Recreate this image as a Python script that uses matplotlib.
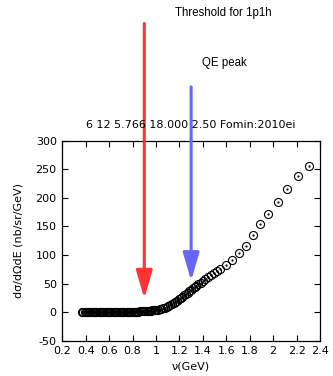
import matplotlib
matplotlib.use('Agg')
import matplotlib.pyplot as plt

plt.rcParams['axes.unicode_minus'] = False

# energy transfer nu (GeV) and cross section (nb/sr/GeV)
nu = [0.37, 0.38, 0.39, 0.40, 0.41, 0.42, 0.43, 0.44, 0.45, 0.46,
      0.47, 0.48, 0.49, 0.50, 0.51, 0.52, 0.53, 0.54, 0.55, 0.56,
      0.57, 0.58, 0.59, 0.60, 0.61, 0.62, 0.63, 0.64, 0.65, 0.66,
      0.67, 0.68, 0.69, 0.70, 0.71, 0.72, 0.73, 0.74, 0.75, 0.76,
      0.77, 0.78, 0.79, 0.80, 0.81, 0.82, 0.83, 0.84, 0.85, 0.86,
      0.87, 0.88, 0.89, 0.90, 0.91, 0.92, 0.93, 0.94, 0.95, 0.96,
      0.97, 0.98, 0.99, 1.00, 1.015, 1.03, 1.045, 1.06, 1.075, 1.09,
      1.105, 1.12, 1.135, 1.15, 1.165, 1.18, 1.195, 1.21, 1.225, 1.24,
      1.255, 1.27, 1.285, 1.30, 1.315, 1.33, 1.345, 1.36, 1.38, 1.40,
      1.42, 1.445, 1.47, 1.495, 1.52, 1.547, 1.60, 1.649, 1.706, 1.766,
      1.826, 1.89, 1.96, 2.04, 2.12, 2.21, 2.31]
xsec = [0.0, 0.0, 0.0, 0.0, 0.0, 0.0, 0.0, 0.0, 0.0, 0.0,
        0.0, 0.0, 0.0, 0.0, 0.0, 0.0, 0.0, 0.0, 0.0, 0.1,
        0.1, 0.1, 0.1, 0.1, 0.1, 0.1, 0.1, 0.2, 0.2, 0.2,
        0.2, 0.2, 0.2, 0.3, 0.3, 0.3, 0.3, 0.3, 0.3, 0.4,
        0.4, 0.5, 0.5, 0.6, 0.6, 0.7, 0.8, 0.9, 1.0, 1.1,
        1.2, 1.3, 1.5, 1.6, 1.7, 1.9, 2.0, 2.2, 2.4, 2.6,
        2.9, 3.1, 3.3, 3.5, 4.2, 5.0, 5.8, 6.8, 8.0, 9.2,
        10.6, 12.2, 14.0, 16.0, 18.0, 20.2, 22.3, 24.6, 27.0, 29.4,
        31.8, 34.2, 36.6, 39.0, 41.4, 43.8, 46.2, 48.4, 51.5, 55.0,
        58.0, 61.5, 65.0, 69.0, 72.0, 75.0, 82.0, 92.0, 103.0, 116.0,
        134.0, 154.0, 171.0, 192.0, 216.0, 238.0, 256.0]

title = '6 12 5.766 18.000 2.50 Fomin:2010ei'
xticks = [0.2, 0.4, 0.6, 0.8, 1.0, 1.2, 1.4, 1.6, 1.8, 2.0, 2.2, 2.4]
xticklabels = ['0.2', '0.4', '0.6', '0.8', '1', '1.2', '1.4', '1.6', '1.8', '2', '2.2', '2.4']
yticks = [-50, 0, 50, 100, 150, 200, 250, 300]

fig = plt.figure(figsize=(3.33, 3.76), dpi=100)
ax = fig.add_axes([0.187, 0.094, 0.774, 0.532])

ax.plot(nu, xsec, 'o', mfc='none', mec='black', ms=5.8, mew=0.8)
ax.plot(nu, xsec, '.', color='black', ms=1.2)

ax.set_xlim(0.2, 2.4)
ax.set_ylim(-50, 300)
ax.set_xticks(xticks)
ax.set_xticklabels(xticklabels)
ax.set_yticks(yticks)
ax.tick_params(direction='in', top=True, right=True, length=4, labelsize=8, pad=4)
for s in ax.spines.values():
    s.set_linewidth(0.9)

ax.set_title(title, fontsize=8, pad=9)
ax.set_xlabel('ν(GeV)', fontsize=8, labelpad=4)
ax.set_ylabel('dσ/dΩdE (nb/sr/GeV)', fontsize=8, labelpad=9)

# arrows for threshold and QE peak
ax.annotate('', xy=(0.9, 24), xytext=(0.9, 505), annotation_clip=False,
            arrowprops=dict(arrowstyle='-|>,head_length=1.7,head_width=0.5',
                            mutation_scale=10, color='#ff3333', lw=2.2,
                            shrinkA=0, shrinkB=0))
ax.annotate('', xy=(1.3, 55), xytext=(1.3, 394), annotation_clip=False,
            arrowprops=dict(arrowstyle='-|>,head_length=1.7,head_width=0.5',
                            mutation_scale=10, color='#6666ff', lw=2.2,
                            shrinkA=0, shrinkB=0))
ax.text(1.572, 524, 'Threshold for 1p1h', fontsize=8.3, family='Liberation Sans',
        ha='center', va='center', clip_on=False)
ax.text(1.58, 436, 'QE peak', fontsize=8.3, family='Liberation Sans',
        ha='center', va='center', clip_on=False)

fig.savefig('out.png', dpi=100)
